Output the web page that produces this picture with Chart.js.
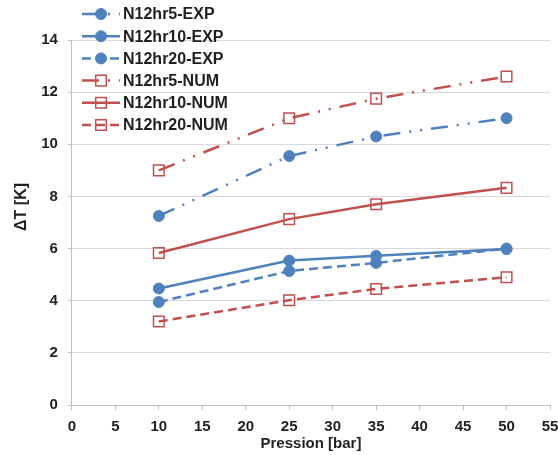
<!DOCTYPE html>
<html>
<head>
<meta charset="utf-8">
<script src="https://cdn.jsdelivr.net/npm/chart.js@4/dist/chart.umd.min.js"></script>
<style>
  html, body { margin: 0; padding: 0; background: #fff; }
  #wrap { width: 558px; height: 455px; }
</style>
</head>
<body>
<div id="wrap"><canvas id="chart" width="558" height="455"></canvas></div>
<script>
// data
const pressure = [10, 25, 35, 50];
const exp5 = [7.25, 9.55, 10.3, 11.0];
const exp10 = [4.47, 5.54, 5.72, 5.98];
const exp20 = [3.95, 5.14, 5.45, 6.0];
const num5 = [9.0, 11.0, 11.75, 12.6];
const num10 = [5.83, 7.13, 7.7, 8.33];
const num20 = [3.2, 4.02, 4.45, 4.9];
const seriesNames = ['N12hr5-EXP', 'N12hr10-EXP', 'N12hr20-EXP', 'N12hr5-NUM', 'N12hr10-NUM', 'N12hr20-NUM'];
const xTicks = [0, 5, 10, 15, 20, 25, 30, 35, 40, 45, 50, 55];
const yTicks = [0, 2, 4, 6, 8, 10, 12, 14];

const BLUE = '#4f81bd';
const RED = '#c0504d';
const DASH_DOT_DOT = [17, 9, 2, 9, 2, 9];
const DASHED = [9, 5];

Chart.defaults.font.family = "'Liberation Sans', Arial, sans-serif";
Chart.defaults.font.weight = 'bold';
Chart.defaults.font.size = 15;
Chart.defaults.color = '#1f1f1f';

function points(values) {
  return values.map((v, i) => ({ x: pressure[i], y: v }));
}

function expSeries(label, values, dash) {
  return {
    label,
    data: points(values),
    borderColor: BLUE,
    backgroundColor: BLUE,
    borderWidth: 2.5,
    borderDash: dash,
    pointStyle: 'circle',
    pointRadius: 5.5,
    pointBorderWidth: 1,
    pointBackgroundColor: BLUE,
    pointBorderColor: BLUE
  };
}

function numSeries(label, values, dash) {
  return {
    label,
    data: points(values),
    borderColor: RED,
    backgroundColor: 'rgba(0,0,0,0)',
    borderWidth: 2.5,
    borderDash: dash,
    pointStyle: 'rect',
    pointRadius: 7.5,
    pointBorderWidth: 1.5,
    pointBackgroundColor: 'rgba(0,0,0,0)',
    pointBorderColor: RED
  };
}

// legend sits over the top-left of the plot, drawn by hand
const overlayLegend = {
  id: 'overlayLegend',
  afterDraw(chart) {
    const ctx = chart.ctx;
    ctx.save();
    chart.data.datasets.forEach((ds, i) => {
      const y = 14 + i * 22.2;
      ctx.beginPath();
      ctx.strokeStyle = ds.borderColor;
      ctx.lineWidth = ds.borderWidth;
      ctx.setLineDash(ds.borderDash || []);
      ctx.moveTo(82, y);
      ctx.lineTo(120, y);
      ctx.stroke();
      ctx.setLineDash([]);
      ctx.fillStyle = ds.pointBackgroundColor;
      ctx.strokeStyle = ds.pointBorderColor;
      ctx.lineWidth = ds.pointBorderWidth;
      Chart.helpers.drawPoint(ctx, {
        pointStyle: ds.pointStyle,
        radius: ds.pointRadius,
        borderWidth: ds.pointBorderWidth
      }, 101, y);
      ctx.fillStyle = '#1f1f1f';
      ctx.font = "bold 16px 'Liberation Sans', Arial, sans-serif";
      ctx.textBaseline = 'middle';
      ctx.textAlign = 'left';
      ctx.fillText(ds.label, 123, y + 1);
    });
    ctx.restore();
  }
};

new Chart(document.getElementById('chart'), {
  type: 'line',
  data: {
    datasets: [
      expSeries(seriesNames[0], exp5, DASH_DOT_DOT),
      expSeries(seriesNames[1], exp10, []),
      expSeries(seriesNames[2], exp20, DASHED),
      numSeries(seriesNames[3], num5, DASH_DOT_DOT),
      numSeries(seriesNames[4], num10, []),
      numSeries(seriesNames[5], num20, DASHED)
    ]
  },
  options: {
    responsive: false,
    animation: false,
    clip: false,
    layout: { autoPadding: false, padding: { top: 40, left: 6, right: 8, bottom: 0 } },
    elements: { line: { tension: 0 } },
    plugins: {
      legend: { display: false },
      tooltip: { enabled: false }
    },
    scales: {
      x: {
        type: 'linear',
        min: 0,
        max: 55,
        afterBuildTicks: axis => { axis.ticks = xTicks.map(v => ({ value: v })); },
        // the last label may hang into the right margin
        afterFit: axis => { axis.paddingLeft = 0; axis.paddingRight = 0; },
        grid: { drawOnChartArea: false, tickLength: 5, tickColor: '#bfbfbf', tickWidth: 1 },
        border: { color: '#bfbfbf', width: 1 },
        ticks: { padding: 8, maxRotation: 0 },
        title: { display: true, text: 'Pression [bar]', padding: { top: -9, bottom: 2 } }
      },
      y: {
        min: 0,
        max: 14,
        afterBuildTicks: axis => { axis.ticks = yTicks.map(v => ({ value: v })); },
        grid: { color: '#d9d9d9', lineWidth: 1, tickLength: 4, tickColor: '#bfbfbf' },
        border: { color: '#bfbfbf', width: 1 },
        ticks: { padding: 10 },
        // leading spaces lift the label a little above the axis centre, as in the source
        title: { display: true, text: '       ΔT [K]', font: { size: 16 }, padding: { top: 5.5, bottom: 0.5 } }
      }
    }
  },
  plugins: [overlayLegend]
});
</script>
</body>
</html>
